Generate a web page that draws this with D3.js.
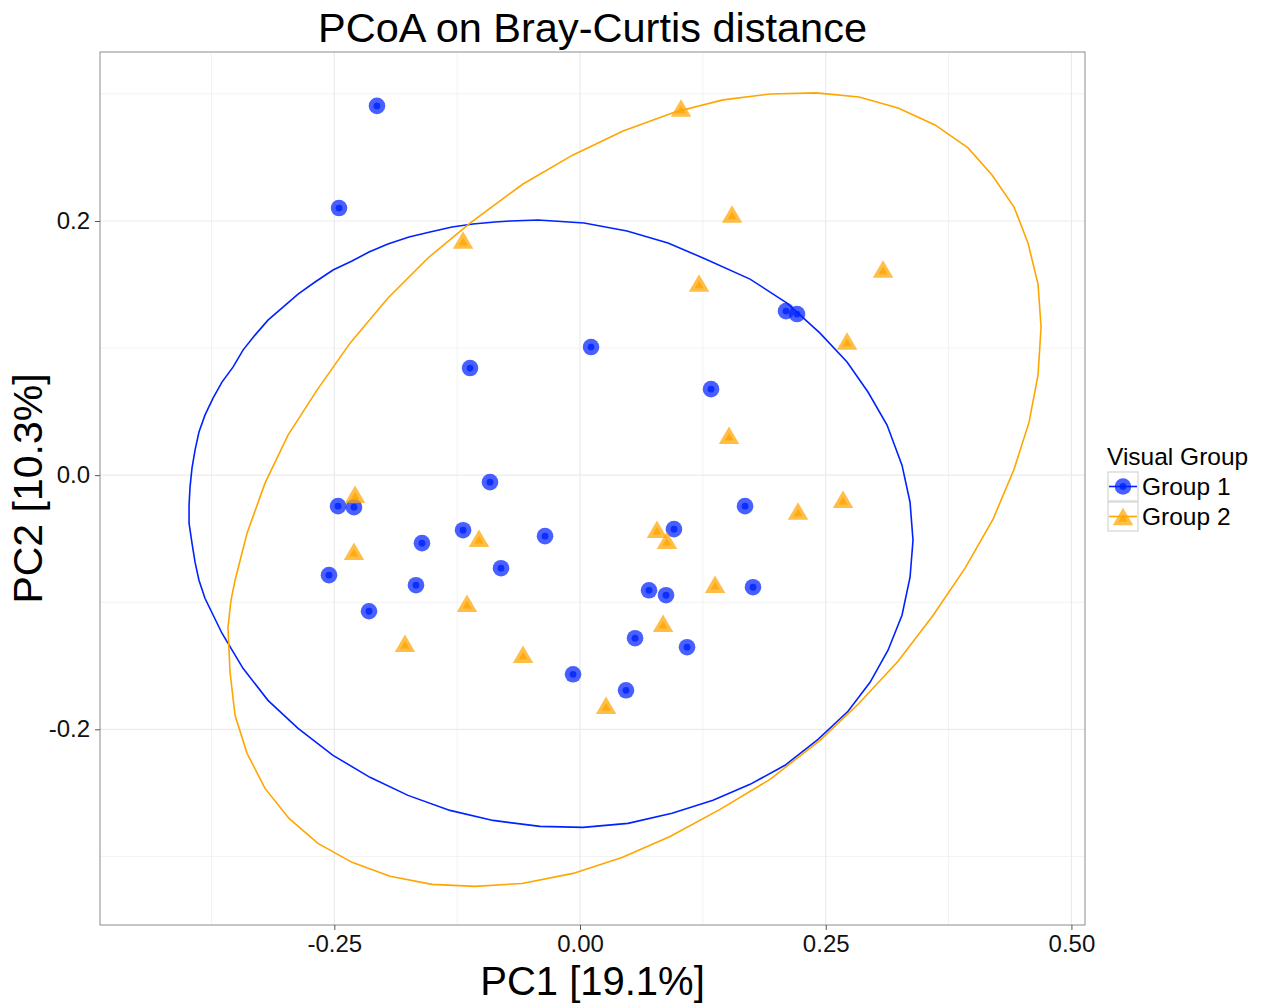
<!DOCTYPE html>
<html>
<head>
<meta charset="utf-8">
<script src="https://cdn.jsdelivr.net/npm/d3@7"></script>
<style>
  html, body { margin: 0; padding: 0; background: #fff; }
  svg text { font-family: "Liberation Sans", Arial, Helvetica, sans-serif; }
</style>
</head>
<body>
<svg id="chart" width="1264" height="1003"></svg>
<script>
// ---------- DATA ----------
const groups = ["Group 1", "Group 2"];
const groupColors = ["#0022ff", "#ffa500"];

const group1X = [-0.2066, -0.2452, -0.1119, 0.0112, 0.1333, 0.2096, 0.2208, -0.0916, -0.2462, -0.2300,
                 -0.1190, -0.0356, -0.1608, -0.0804, -0.2554, -0.1669, -0.2147, 0.0956, 0.1679, 0.0702,
                 0.0875, 0.0560, 0.1089, 0.1760, -0.0071, 0.0468];
const group1Y = [0.2906, 0.2102, 0.0843, 0.1008, 0.0677, 0.1291, 0.1268, -0.0055, -0.0244, -0.0252,
                 -0.0433, -0.0480, -0.0535, -0.0732, -0.0787, -0.0866, -0.1071, -0.0425, -0.0244, -0.0906,
                 -0.0945, -0.1283, -0.1354, -0.0882, -0.1567, -0.1693];

const group2X = [0.1028, 0.1547, -0.1190, 0.1211, 0.3083, 0.2717, 0.1516, -0.2289, 0.2676, 0.2218,
                 -0.2300, -0.1028, 0.0783, 0.0885, -0.1150, 0.1374, -0.1781, 0.0845, -0.0580, 0.0265];
const group2Y = [0.2890, 0.2055, 0.1850, 0.1512, 0.1622, 0.1055, 0.0315, -0.0150, -0.0189, -0.0283,
                 -0.0598, -0.0496, -0.0425, -0.0512, -0.1008, -0.0858, -0.1323, -0.1165, -0.1409, -0.1811];

// ellipse outlines (stat_ellipse paths)
const ellipse1X = [-0.0427, 0.0041, 0.0478, 0.0895, 0.1252, 0.1730, 0.2106, 0.2442, 0.2717, 0.2930,
                   0.3124, 0.3276, 0.3358, 0.3388, 0.3358, 0.3276, 0.3134, 0.2951, 0.2727, 0.2422,
                   0.2086, 0.1730, 0.1353, 0.0936, 0.0488, 0.0031, -0.0407, -0.0885, -0.1323, -0.1750,
                   -0.2137, -0.2513, -0.2869, -0.3175, -0.3429, -0.3643, -0.3816, -0.3877, -0.3917, -0.3948,
                   -0.3978, -0.3978, -0.3968, -0.3948, -0.3917, -0.3877, -0.3816, -0.3734, -0.3643, -0.3531,
                   -0.3429, -0.3307, -0.3175, -0.3022, -0.2869, -0.2696, -0.2513, -0.2320, -0.2147, -0.1954,
                   -0.1740, -0.1526, -0.1302, -0.1089, -0.0865, -0.0712];
const ellipse1Y = [0.2008, 0.1984, 0.1921, 0.1827, 0.1709, 0.1543, 0.1354, 0.1118, 0.0890, 0.0654,
                   0.0394, 0.0079, -0.0213, -0.0512, -0.0803, -0.1102, -0.1378, -0.1630, -0.1858, -0.2079,
                   -0.2283, -0.2433, -0.2559, -0.2661, -0.2740, -0.2772, -0.2764, -0.2717, -0.2638, -0.2520,
                   -0.2378, -0.2205, -0.1992, -0.1772, -0.1520, -0.1244, -0.0969, -0.0827, -0.0685, -0.0535,
                   -0.0378, -0.0236, -0.0094, 0.0055, 0.0197, 0.0339, 0.0472, 0.0606, 0.0732, 0.0850,
                   0.0984, 0.1102, 0.1220, 0.1323, 0.1425, 0.1520, 0.1614, 0.1685, 0.1756, 0.1819,
                   0.1874, 0.1913, 0.1953, 0.1976, 0.1992, 0.2000];

const ellipse2X = [0.2401, 0.2839, 0.3236, 0.3612, 0.3948, 0.4192, 0.4416, 0.4558, 0.4660, 0.4691,
                   0.4660, 0.4569, 0.4416, 0.4203, 0.3918, 0.3593, 0.3236, 0.2829, 0.2442, 0.1933,
                   0.1425, 0.0916, 0.0427, -0.0071, -0.0590, -0.1068, -0.1506, -0.1933, -0.2320, -0.2666,
                   -0.2961, -0.3205, -0.3388, -0.3510, -0.3561, -0.3582, -0.3551, -0.3510, -0.3388, -0.3205,
                   -0.2971, -0.2676, -0.2340, -0.1954, -0.1547, -0.1119, -0.0580, -0.0071, 0.0438, 0.0967,
                   0.1455, 0.1933];
const ellipse2Y = [0.3008, 0.2976, 0.2890, 0.2756, 0.2575, 0.2362, 0.2110, 0.1827, 0.1504, 0.1165,
                   0.0787, 0.0417, 0.0047, -0.0346, -0.0732, -0.1102, -0.1465, -0.1803, -0.2087, -0.2394,
                   -0.2630, -0.2843, -0.3008, -0.3134, -0.3213, -0.3236, -0.3220, -0.3157, -0.3047, -0.2898,
                   -0.2701, -0.2465, -0.2189, -0.1890, -0.1551, -0.1197, -0.0984, -0.0827, -0.0457, -0.0063,
                   0.0315, 0.0669, 0.1039, 0.1394, 0.1709, 0.1984, 0.2291, 0.2520, 0.2709, 0.2858,
                   0.2953, 0.3000];

const xTicks = [-0.25, 0, 0.25, 0.5];
const xTickLabels = ["-0.25", "0.00", "0.25", "0.50"];
const xMinor = [-0.375, -0.125, 0.125, 0.375];
const yTicks = [-0.2, 0, 0.2];
const yTickLabels = ["-0.2", "0.0", "0.2"];
const yMinor = [-0.3, -0.1, 0.1, 0.3];

const titleText = "PCoA on Bray-Curtis distance";
const xTitle = "PC1 [19.1%]";
const yTitle = "PC2 [10.3%]";
const legendTitle = "Visual Group";

// ---------- LAYOUT ----------
const svg = d3.select("#chart");
const P = { left: 100, right: 1085, top: 52, bottom: 925 };

const x = d3.scaleLinear().domain([-0.4884, 0.5138]).range([P.left, P.right]);
const y = d3.scaleLinear().domain([-0.354, 0.333]).range([P.bottom, P.top]);

svg.append("rect").attr("x", 0).attr("y", 0).attr("width", 1264).attr("height", 1003).attr("fill", "#fff");

// grid
const grid = svg.append("g");
grid.selectAll(".xmin").data(xMinor).join("line")
  .attr("x1", d => x(d)).attr("x2", d => x(d)).attr("y1", P.top).attr("y2", P.bottom)
  .attr("stroke", "#f2f2f2").attr("stroke-width", 1);
grid.selectAll(".ymin").data(yMinor).join("line")
  .attr("y1", d => y(d)).attr("y2", d => y(d)).attr("x1", P.left).attr("x2", P.right)
  .attr("stroke", "#f2f2f2").attr("stroke-width", 1);
grid.selectAll(".xmaj").data(xTicks).join("line")
  .attr("x1", d => x(d)).attr("x2", d => x(d)).attr("y1", P.top).attr("y2", P.bottom)
  .attr("stroke", "#ebebeb").attr("stroke-width", 1.2);
grid.selectAll(".ymaj").data(yTicks).join("line")
  .attr("y1", d => y(d)).attr("y2", d => y(d)).attr("x1", P.left).attr("x2", P.right)
  .attr("stroke", "#ebebeb").attr("stroke-width", 1.2);

// ellipses
const line = d3.line().x(d => x(d[0])).y(d => y(d[1])).curve(d3.curveLinearClosed);
const e1 = ellipse1X.map((v, i) => [v, ellipse1Y[i]]);
const e2 = ellipse2X.map((v, i) => [v, ellipse2Y[i]]);
svg.append("path").attr("d", line(e1)).attr("fill", "none").attr("stroke", groupColors[0]).attr("stroke-width", 1.6);
svg.append("path").attr("d", line(e2)).attr("fill", "none").attr("stroke", groupColors[1]).attr("stroke-width", 1.6);

// markers
function circleMarker(g, cx, cy, color) {
  g.append("circle").attr("cx", cx).attr("cy", cy).attr("r", 8.3).attr("fill", color).attr("fill-opacity", 0.72);
  g.append("circle").attr("cx", cx).attr("cy", cy).attr("r", 3.4).attr("fill", color).attr("fill-opacity", 0.8);
}
function triPath(cx, cy, w, h) {
  return `M${cx},${cy - h / 2}L${cx + w / 2},${cy + h / 2}L${cx - w / 2},${cy + h / 2}Z`;
}
function triMarker(g, cx, cy, color) {
  g.append("path").attr("d", triPath(cx, cy, 20.5, 17.5)).attr("fill", color).attr("fill-opacity", 0.72);
  g.append("path").attr("d", triPath(cx, cy + 1.5, 9, 7.5)).attr("fill", color).attr("fill-opacity", 0.8);
}

const pts = svg.append("g");
group1X.forEach((v, i) => circleMarker(pts, x(v), y(group1Y[i]), groupColors[0]));
group2X.forEach((v, i) => triMarker(pts, x(v), y(group2Y[i]), groupColors[1]));

// panel border
svg.append("rect").attr("x", P.left).attr("y", P.top)
  .attr("width", P.right - P.left).attr("height", P.bottom - P.top)
  .attr("fill", "none").attr("stroke", "#8c8c8c").attr("stroke-width", 1);

// axes
const xAxis = d3.axisBottom(x).tickValues(xTicks).tickSize(5).tickPadding(5)
  .tickFormat((d, i) => xTickLabels[i]);
const gx = svg.append("g").attr("transform", `translate(0,${P.bottom})`).call(xAxis);
gx.select(".domain").remove();
gx.selectAll(".tick line").attr("stroke", "#555");
gx.selectAll(".tick text").attr("font-size", 24).attr("fill", "#111")
  .style("font-family", "'Liberation Sans', Arial, sans-serif");

const yAxis = d3.axisLeft(y).tickValues(yTicks).tickSize(5).tickPadding(5)
  .tickFormat((d, i) => yTickLabels[i]);
const gy = svg.append("g").attr("transform", `translate(${P.left},0)`).call(yAxis);
gy.select(".domain").remove();
gy.selectAll(".tick line").attr("stroke", "#555");
gy.selectAll(".tick text").attr("font-size", 24).attr("fill", "#111")
  .style("font-family", "'Liberation Sans', Arial, sans-serif");

// titles
svg.append("text").attr("x", (P.left + P.right) / 2).attr("y", 42).attr("text-anchor", "middle")
  .attr("font-size", 41.5).attr("fill", "#000").text(titleText);
svg.append("text").attr("x", (P.left + P.right) / 2).attr("y", 995).attr("text-anchor", "middle")
  .attr("font-size", 40).attr("fill", "#000").text(xTitle);
svg.append("text").attr("transform", `translate(42,${(P.top + P.bottom) / 2}) rotate(-90)`)
  .attr("text-anchor", "middle").attr("font-size", 41).attr("fill", "#000").text(yTitle);

// legend
const lg = svg.append("g");
lg.append("text").attr("x", 1107).attr("y", 465).attr("font-size", 24.5).attr("fill", "#000").text(legendTitle);
groups.forEach((gname, i) => {
  const ky = 472 + i * 30;
  lg.append("rect").attr("x", 1108).attr("y", ky).attr("width", 30).attr("height", 29)
    .attr("fill", "#fff").attr("stroke", "#d4d4d4").attr("stroke-width", 1.2);
  lg.append("line").attr("x1", 1109).attr("x2", 1137).attr("y1", ky + 14.5).attr("y2", ky + 14.5)
    .attr("stroke", groupColors[i]).attr("stroke-width", 1.6);
  if (i === 0) circleMarker(lg, 1123, ky + 14.5, groupColors[i]);
  else triMarker(lg, 1123, ky + 14.5, groupColors[i]);
  lg.append("text").attr("x", 1142).attr("y", ky + 23).attr("font-size", 24.5).attr("fill", "#000").text(gname);
});
</script>
</body>
</html>
